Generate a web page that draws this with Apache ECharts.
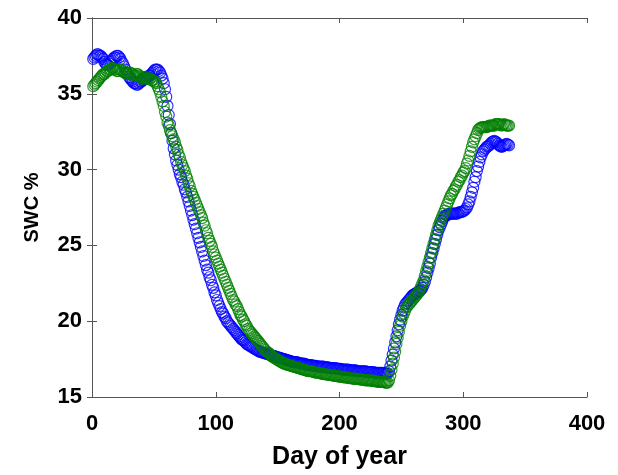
<!DOCTYPE html>
<html>
<head>
<meta charset="utf-8">
<script src="https://cdn.jsdelivr.net/npm/echarts@6/dist/echarts.min.js"></script>
<style>
  html, body { margin: 0; padding: 0; background: #fff; }
  #chart { width: 618px; height: 475px; }
</style>
</head>
<body>
<div id="chart"></div>
<script>
// day of year for each daily sample
const days = [
  1, 2, 3, 4, 5, 6, 7, 8, 9, 10,
  11, 12, 13, 14, 15, 16, 17, 18, 19, 20,
  21, 22, 23, 24, 25, 26, 27, 28, 29, 30,
  31, 32, 33, 34, 35, 36, 37, 38, 39, 40,
  41, 42, 43, 44, 45, 46, 47, 48, 49, 50,
  51, 52, 53, 54, 55, 56, 57, 58, 59, 60,
  61, 62, 63, 64, 65, 66, 67, 68, 69, 70,
  71, 72, 73, 74, 75, 76, 77, 78, 79, 80,
  81, 82, 83, 84, 85, 86, 87, 88, 89, 90,
  91, 92, 93, 94, 95, 96, 97, 98, 99, 100,
  101, 102, 103, 104, 105, 106, 107, 108, 109, 110,
  111, 112, 113, 114, 115, 116, 117, 118, 119, 120,
  121, 122, 123, 124, 125, 126, 127, 128, 129, 130,
  131, 132, 133, 134, 135, 136, 137, 138, 139, 140,
  141, 142, 143, 144, 145, 146, 147, 148, 149, 150,
  151, 152, 153, 154, 155, 156, 157, 158, 159, 160,
  161, 162, 163, 164, 165, 166, 167, 168, 169, 170,
  171, 172, 173, 174, 175, 176, 177, 178, 179, 180,
  181, 182, 183, 184, 185, 186, 187, 188, 189, 190,
  191, 192, 193, 194, 195, 196, 197, 198, 199, 200,
  201, 202, 203, 204, 205, 206, 207, 208, 209, 210,
  211, 212, 213, 214, 215, 216, 217, 218, 219, 220,
  221, 222, 223, 224, 225, 226, 227, 228, 229, 230,
  231, 232, 233, 234, 235, 236, 237, 238, 239, 240,
  241, 242, 243, 244, 245, 246, 247, 248, 249, 250,
  251, 252, 253, 254, 255, 256, 257, 258, 259, 260,
  261, 262, 263, 264, 265, 266, 267, 268, 269, 270,
  271, 272, 273, 274, 275, 276, 277, 278, 279, 280,
  281, 282, 283, 284, 285, 286, 287, 288, 289, 290,
  291, 292, 293, 294, 295, 296, 297, 298, 299, 300,
  301, 302, 303, 304, 305, 306, 307, 308, 309, 310,
  311, 312, 313, 314, 315, 316, 317, 318, 319, 320,
  321, 322, 323, 324, 325, 326, 327, 328, 329, 330,
  331, 332, 333, 334, 335, 336, 337
]

// SWC %, blue series
const swcBlue = [
  37.3, 37.4, 37.5, 37.6, 37.6, 37.5, 37.5, 37.4, 37.3, 37.1,
  37.0, 36.9, 36.9, 37.0, 37.1, 37.2, 37.3, 37.4, 37.4, 37.5,
  37.5, 37.4, 37.3, 37.1, 37.0, 36.8, 36.6, 36.4, 36.3, 36.1,
  36.0, 35.9, 35.8, 35.7, 35.7, 35.6, 35.6, 35.7, 35.8, 35.8,
  35.9, 36.0, 36.0, 36.1, 36.1, 36.2, 36.2, 36.3, 36.4, 36.5,
  36.6, 36.6, 36.6, 36.5, 36.4, 36.2, 36.0, 35.7, 35.3, 34.8,
  34.2, 33.6, 33.0, 32.4, 31.9, 31.4, 31.0, 30.6, 30.3, 30.0,
  29.7, 29.5, 29.2, 29.0, 28.7, 28.5, 28.2, 27.9, 27.6, 27.3,
  27.0, 26.7, 26.4, 26.1, 25.8, 25.5, 25.2, 24.9, 24.6, 24.3,
  24.0, 23.7, 23.4, 23.2, 22.9, 22.7, 22.4, 22.2, 21.9, 21.7,
  21.4, 21.2, 21.0, 20.8, 20.6, 20.5, 20.3, 20.2, 20.0, 19.9,
  19.8, 19.7, 19.6, 19.5, 19.4, 19.3, 19.2, 19.1, 19.0, 18.9,
  18.8, 18.75, 18.7, 18.6, 18.5, 18.45, 18.4, 18.35, 18.3, 18.25,
  18.2, 18.15, 18.1, 18.05, 18.0, 17.98, 17.95, 17.92, 17.9, 17.88,
  17.85, 17.82, 17.8, 17.78, 17.75, 17.72, 17.7, 17.68, 17.65, 17.62,
  17.6, 17.58, 17.55, 17.52, 17.5, 17.48, 17.45, 17.42, 17.4, 17.38,
  17.35, 17.32, 17.3, 17.3, 17.3, 17.28, 17.25, 17.22, 17.2, 17.2,
  17.2, 17.18, 17.15, 17.12, 17.1, 17.1, 17.1, 17.08, 17.05, 17.05,
  17.05, 17.02, 17.0, 17.0, 17.0, 17.0, 17.0, 16.98, 16.95, 16.95,
  16.95, 16.92, 16.9, 16.9, 16.9, 16.9, 16.9, 16.88, 16.85, 16.85,
  16.85, 16.82, 16.8, 16.8, 16.8, 16.8, 16.8, 16.78, 16.75, 16.75,
  16.75, 16.75, 16.75, 16.72, 16.7, 16.7, 16.7, 16.7, 16.7, 16.7,
  16.7, 16.68, 16.65, 16.65, 16.65, 16.65, 16.65, 16.62, 16.6, 16.6,
  16.6, 16.6, 16.6, 16.6, 16.6, 16.58, 16.55, 16.55, 16.55, 16.7,
  17.0, 17.4, 17.8, 18.2, 18.6, 19.0, 19.4, 19.8, 20.1, 20.4,
  20.7, 20.9, 21.1, 21.2, 21.3, 21.4, 21.5, 21.6, 21.7, 21.75,
  21.8, 21.85, 21.9, 21.95, 22.0, 22.1, 22.2, 22.4, 22.6, 22.9,
  23.2, 23.5, 23.8, 24.2, 24.5, 24.8, 25.1, 25.4, 25.7, 26.0,
  26.2, 26.4, 26.6, 26.8, 26.9, 27.0, 27.0, 27.05, 27.1, 27.1,
  27.1, 27.1, 27.1, 27.1, 27.1, 27.15, 27.2, 27.2, 27.2, 27.25,
  27.3, 27.4, 27.5, 27.7, 27.9, 28.2, 28.5, 28.8, 29.2, 29.5,
  29.9, 30.2, 30.5, 30.8, 31.0, 31.2, 31.3, 31.4, 31.5, 31.55,
  31.6, 31.7, 31.8, 31.85, 31.9, 31.85, 31.8, 31.7, 31.6, 31.55,
  31.5, 31.55, 31.6, 31.65, 31.7, 31.65, 31.6
]

// SWC %, green series
const swcGreen = [
  35.5, 35.6, 35.7, 35.8, 35.9, 36.0, 36.1, 36.2, 36.3, 36.3,
  36.4, 36.5, 36.5, 36.6, 36.6, 36.7, 36.7, 36.6, 36.6, 36.5,
  36.5, 36.6, 36.6, 36.5, 36.5, 36.4, 36.4, 36.3, 36.3, 36.4,
  36.4, 36.3, 36.3, 36.2, 36.2, 36.3, 36.3, 36.2, 36.1, 36.0,
  36.0, 36.1, 36.1, 36.0, 36.0, 36.0, 36.0, 35.9, 35.9, 35.8,
  35.8, 35.7, 35.5, 35.3, 35.1, 34.8, 34.5, 34.2, 33.8, 33.5,
  33.1, 32.9, 32.6, 32.4, 32.2, 32.0, 31.8, 31.5, 31.3, 31.0,
  30.8, 30.5, 30.3, 30.1, 29.9, 29.6, 29.4, 29.1, 28.9, 28.6,
  28.4, 28.2, 28.0, 27.8, 27.6, 27.4, 27.2, 27.0, 26.8, 26.5,
  26.3, 26.0, 25.8, 25.5, 25.3, 25.1, 24.9, 24.6, 24.4, 24.2,
  24.0, 23.8, 23.6, 23.4, 23.2, 23.0, 22.8, 22.6, 22.4, 22.2,
  22.0, 21.8, 21.6, 21.4, 21.3, 21.1, 21.0, 20.8, 20.6, 20.4,
  20.3, 20.1, 20.0, 19.8, 19.7, 19.5, 19.4, 19.3, 19.2, 19.1,
  19.0, 18.9, 18.8, 18.7, 18.6, 18.5, 18.4, 18.3, 18.2, 18.1,
  18.0, 17.95, 17.9, 17.8, 17.7, 17.65, 17.6, 17.55, 17.5, 17.45,
  17.4, 17.35, 17.3, 17.25, 17.2, 17.18, 17.15, 17.12, 17.1, 17.08,
  17.05, 17.02, 17.0, 16.98, 16.95, 16.92, 16.9, 16.88, 16.85, 16.82,
  16.8, 16.78, 16.75, 16.72, 16.7, 16.7, 16.7, 16.68, 16.65, 16.62,
  16.6, 16.6, 16.6, 16.58, 16.55, 16.52, 16.5, 16.5, 16.5, 16.48,
  16.45, 16.45, 16.45, 16.42, 16.4, 16.4, 16.4, 16.38, 16.35, 16.35,
  16.35, 16.32, 16.3, 16.3, 16.3, 16.28, 16.25, 16.25, 16.25, 16.22,
  16.2, 16.2, 16.2, 16.2, 16.2, 16.18, 16.15, 16.15, 16.15, 16.12,
  16.1, 16.1, 16.1, 16.1, 16.1, 16.08, 16.05, 16.05, 16.05, 16.02,
  16.0, 16.0, 16.0, 16.0, 16.0, 15.98, 15.95, 15.95, 15.95, 16.1,
  16.4, 16.8, 17.2, 17.6, 18.0, 18.5, 18.9, 19.3, 19.7, 20.0,
  20.3, 20.5, 20.7, 20.9, 21.0, 21.1, 21.2, 21.3, 21.4, 21.5,
  21.6, 21.7, 21.8, 21.9, 22.1, 22.3, 22.5, 22.7, 23.0, 23.3,
  23.6, 23.9, 24.2, 24.5, 24.8, 25.1, 25.4, 25.7, 26.0, 26.3,
  26.5, 26.7, 26.9, 27.1, 27.3, 27.5, 27.7, 27.9, 28.1, 28.3,
  28.4, 28.6, 28.7, 28.9, 29.0, 29.2, 29.3, 29.5, 29.6, 29.8,
  29.9, 30.1, 30.4, 30.6, 30.9, 31.2, 31.5, 31.8, 32.0, 32.2,
  32.4, 32.6, 32.7, 32.75, 32.8, 32.8, 32.8, 32.8, 32.8, 32.85,
  32.9, 32.9, 32.9, 32.9, 32.9, 33.0, 33.0, 33.0, 33.0, 32.95,
  32.9, 32.95, 33.0, 32.95, 32.9, 32.9, 32.9
]

const xTicks = [0, 400, 100]   // min, max, step
const yTicks = [15, 40, 5]

const chart = echarts.init(document.getElementById('chart'))

const labelFont = {
  color: '#000',
  fontFamily: 'Liberation Sans',
  fontWeight: 'bold',
  fontSize: 22
}

const pairs = (vals) => days.map((d, i) => [d, vals[i]])

const hollow = (color) => ({
  type: 'scatter',
  symbol: 'circle',
  symbolSize: 11,
  itemStyle: { color: 'rgba(0,0,0,0)', borderColor: color, borderWidth: 1.2 },
  emphasis: { disabled: true }
})

// box axis (ticks inside on every side)
const boxAxis = {
  axisLine: { show: true, lineStyle: { color: '#555', width: 1 } },
  axisTick: { show: true, inside: true, length: 5, lineStyle: { color: '#555' } },
  splitLine: { show: false }
}

const option = {
  animation: false,
  backgroundColor: '#fff',
  grid: { left: 92, right: 31, top: 18, bottom: 78 },
  xAxis: [
    {
      ...boxAxis,
      type: 'value',
      position: 'bottom',
      min: xTicks[0],
      max: xTicks[1],
      interval: xTicks[2],
      axisLabel: { ...labelFont, margin: 16 },
      name: 'Day of year',
      nameLocation: 'middle',
      nameGap: 48,
      nameTextStyle: { color: '#000', fontFamily: 'Liberation Sans', fontWeight: 'bold', fontSize: 25 }
    },
    {
      ...boxAxis,
      type: 'value',
      position: 'top',
      min: xTicks[0],
      max: xTicks[1],
      interval: xTicks[2],
      axisLabel: { show: false }
    }
  ],
  yAxis: [
    {
      ...boxAxis,
      type: 'value',
      position: 'left',
      min: yTicks[0],
      max: yTicks[1],
      interval: yTicks[2],
      axisLabel: { ...labelFont, margin: 10 },
      name: 'SWC %',
      nameLocation: 'middle',
      nameGap: 50,
      nameTextStyle: { color: '#000', fontFamily: 'Liberation Sans', fontWeight: 'bold', fontSize: 20 }
    },
    {
      ...boxAxis,
      type: 'value',
      position: 'right',
      min: yTicks[0],
      max: yTicks[1],
      interval: yTicks[2],
      axisLabel: { show: false }
    }
  ],
  series: [
    { ...hollow('#0000ff'), name: 'blue', data: pairs(swcBlue) },
    { ...hollow('#008000'), name: 'green', data: pairs(swcGreen) }
  ]
}

chart.setOption(option)
</script>
</body>
</html>
